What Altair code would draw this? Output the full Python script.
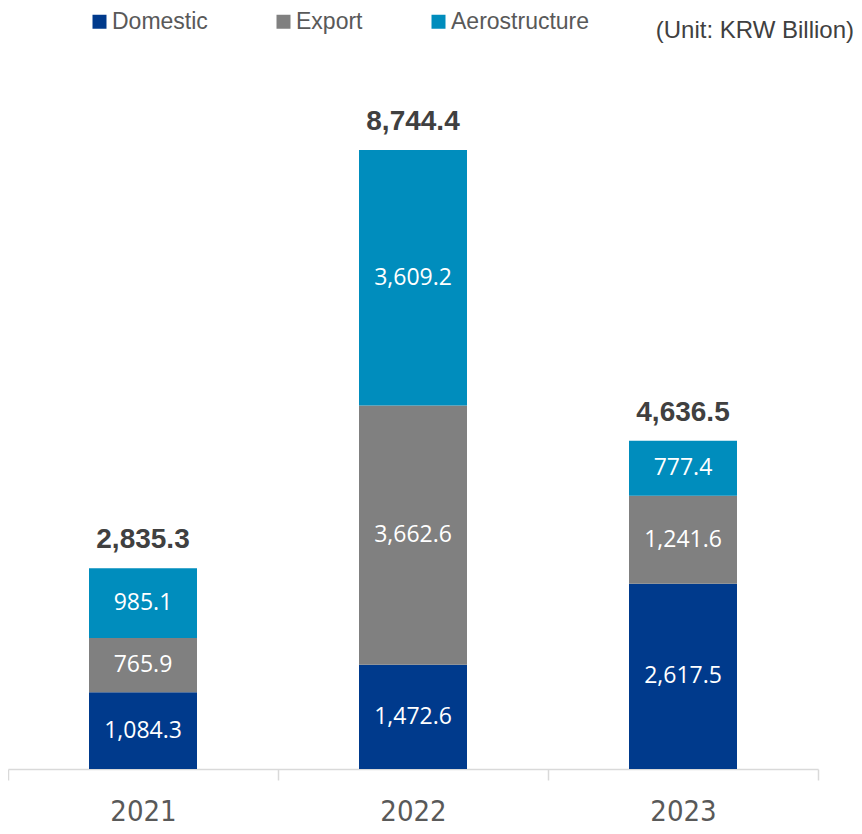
import altair as alt
import pandas as pd

years = ["2021", "2022", "2023"]
categories = ["Domestic", "Export", "Aerostructure"]
domestic = [1084.3, 1472.6, 2617.5]
export = [765.9, 3662.6, 1241.6]
aerostructure = [985.1, 3609.2, 777.4]
totals = [2835.3, 8744.4, 4636.5]
colors = ["#003A8C", "#808080", "#008DBD"]

rows = []
for i, y in enumerate(years):
    base = 0.0
    for j, (cat, vals) in enumerate(zip(categories, [domestic, export, aerostructure])):
        v = vals[i]
        rows.append({"year": y, "cat": cat, "order": j, "value": v,
                     "y0": base, "y1": base + v, "mid": base + v / 2})
        base += v
df = pd.DataFrame(rows)
tot = pd.DataFrame({"year": years, "total": totals})

xenc = alt.X("year:N", title=None,
             scale=alt.Scale(paddingInner=0, paddingOuter=0),
             axis=alt.Axis(labelAngle=0, labelFontSize=29, labelFont="DejaVu Sans Condensed",
                           labelColor="#595959", labelFontWeight="normal",
                           domainColor="#d9d9d9", domainWidth=1.5,
                           tickColor="#d9d9d9", tickWidth=1.5, tickSize=11,
                           tickBand="extent", labelPadding=17, grid=False))
yscale = alt.Scale(domain=[0, 10609], nice=False, zero=True)

bars = alt.Chart(df).mark_bar(size=108).encode(
    x=xenc,
    y=alt.Y("y0:Q", scale=yscale, axis=None),
    y2="y1:Q",
    color=alt.Color("cat:N", scale=alt.Scale(domain=categories, range=colors),
                    legend=alt.Legend(title=None, orient="none", direction="horizontal",
                                      legendX=80, legendY=-8, symbolType="square",
                                      symbolSize=196, symbolStrokeWidth=0,
                                      labelFontSize=23, labelFont="Liberation Sans",
                                      labelColor="#595959", labelOffset=1,
                                      columnPadding=64)),
)

seg_text = alt.Chart(df).mark_text(color="white", fontSize=23, font="Open Sans").encode(
    x="year:N",
    y=alt.Y("mid:Q", scale=yscale),
    text=alt.Text("value:Q", format=",.1f"),
)

tot_text = alt.Chart(tot).mark_text(color="#404040", fontSize=28, fontWeight="bold",
                                     font="Liberation Sans", baseline="alphabetic", dy=-20).encode(
    x="year:N",
    y=alt.Y("total:Q", scale=yscale),
    text=alt.Text("total:Q", format=",.1f"),
)

unit = alt.Chart(pd.DataFrame({"t": ["(Unit: KRW Billion)"]})).mark_text(
    color="#404040", fontSize=24, font="Liberation Sans", align="right", baseline="middle"
).encode(x=alt.value(846), y=alt.value(13), text="t:N")

chart = alt.layer(bars, seg_text, tot_text, unit).properties(
    width=810, height=751,
    padding={"left": 0, "top": 10, "right": 36, "bottom": 57},
    autosize=alt.AutoSizeParams(type="none"),
).configure_view(stroke=None)

chart.save("out.html", embed_options={"renderer": "svg", "actions": False})
